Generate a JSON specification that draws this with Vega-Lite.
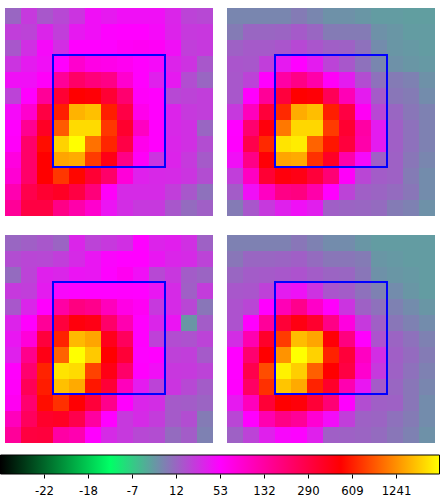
{"$schema":"https://vega.github.io/schema/vega-lite/v6.json","padding":{"left":0,"top":8,"right":0,"bottom":0},"background":"white","config":{"view":{"stroke":null}},
"datasets":{
"box":[{"x0":3,"x1":10,"y0":2.94,"y1":9.94}],
"bar":[{"lo":-25,"hi":2500}],
"p1":[
{"c":0,"r":0,"v":12},{"c":1,"r":0,"v":30},{"c":2,"r":0,"v":18},{"c":3,"r":0,"v":24},{"c":4,"r":0,"v":32},{"c":5,"r":0,"v":47},{"c":6,"r":0,"v":43},{"c":7,"r":0,"v":47},{"c":8,"r":0,"v":47},{"c":9,"r":0,"v":47},{"c":10,"r":0,"v":38},{"c":11,"r":0,"v":26},{"c":12,"r":0,"v":24},
{"c":0,"r":1,"v":28},{"c":1,"r":1,"v":26},{"c":2,"r":1,"v":38},{"c":3,"r":1,"v":28},{"c":4,"r":1,"v":43},{"c":5,"r":1,"v":47},{"c":6,"r":1,"v":52},{"c":7,"r":1,"v":53},{"c":8,"r":1,"v":53},{"c":9,"r":1,"v":49},{"c":10,"r":1,"v":39},{"c":11,"r":1,"v":30},{"c":12,"r":1,"v":31},
{"c":0,"r":2,"v":18},{"c":1,"r":2,"v":34},{"c":2,"r":2,"v":49},{"c":3,"r":2,"v":35},{"c":4,"r":2,"v":53},{"c":5,"r":2,"v":53},{"c":6,"r":2,"v":52},{"c":7,"r":2,"v":60},{"c":8,"r":2,"v":62},{"c":9,"r":2,"v":60},{"c":10,"r":2,"v":47},{"c":11,"r":2,"v":28},{"c":12,"r":2,"v":30},
{"c":0,"r":3,"v":32},{"c":1,"r":3,"v":42},{"c":2,"r":3,"v":47},{"c":3,"r":3,"v":55},{"c":4,"r":3,"v":95},{"c":5,"r":3,"v":75},{"c":6,"r":3,"v":72},{"c":7,"r":3,"v":65},{"c":8,"r":3,"v":55},{"c":9,"r":3,"v":49},{"c":10,"r":3,"v":39},{"c":11,"r":3,"v":33},{"c":12,"r":3,"v":18},
{"c":0,"r":4,"v":47},{"c":1,"r":4,"v":47},{"c":2,"r":4,"v":58},{"c":3,"r":4,"v":150},{"c":4,"r":4,"v":235},{"c":5,"r":4,"v":200},{"c":6,"r":4,"v":180},{"c":7,"r":4,"v":95},{"c":8,"r":4,"v":55},{"c":9,"r":4,"v":40},{"c":10,"r":4,"v":43},{"c":11,"r":4,"v":22},{"c":12,"r":4,"v":12},
{"c":0,"r":5,"v":26},{"c":1,"r":5,"v":55},{"c":2,"r":5,"v":150},{"c":3,"r":5,"v":350},{"c":4,"r":5,"v":520},{"c":5,"r":5,"v":500},{"c":6,"r":5,"v":350},{"c":7,"r":5,"v":220},{"c":8,"r":5,"v":58},{"c":9,"r":5,"v":55},{"c":10,"r":5,"v":24},{"c":11,"r":5,"v":26},{"c":12,"r":5,"v":28},
{"c":0,"r":6,"v":49},{"c":1,"r":6,"v":95},{"c":2,"r":6,"v":300},{"c":3,"r":6,"v":620},{"c":4,"r":6,"v":1650},{"c":5,"r":6,"v":1800},{"c":6,"r":6,"v":620},{"c":7,"r":6,"v":290},{"c":8,"r":6,"v":70},{"c":9,"r":6,"v":55},{"c":10,"r":6,"v":39},{"c":11,"r":6,"v":30},{"c":12,"r":6,"v":28},
{"c":0,"r":7,"v":55},{"c":1,"r":7,"v":160},{"c":2,"r":7,"v":400},{"c":3,"r":7,"v":950},{"c":4,"r":7,"v":2100},{"c":5,"r":7,"v":2100},{"c":6,"r":7,"v":760},{"c":7,"r":7,"v":370},{"c":8,"r":7,"v":105},{"c":9,"r":7,"v":55},{"c":10,"r":7,"v":37},{"c":11,"r":7,"v":34},{"c":12,"r":7,"v":12},
{"c":0,"r":8,"v":58},{"c":1,"r":8,"v":230},{"c":2,"r":8,"v":560},{"c":3,"r":8,"v":2000},{"c":4,"r":8,"v":2500},{"c":5,"r":8,"v":1080},{"c":6,"r":8,"v":660},{"c":7,"r":8,"v":290},{"c":8,"r":8,"v":70},{"c":9,"r":8,"v":55},{"c":10,"r":8,"v":38},{"c":11,"r":8,"v":34},{"c":12,"r":8,"v":22},
{"c":0,"r":9,"v":80},{"c":1,"r":9,"v":230},{"c":2,"r":9,"v":520},{"c":3,"r":9,"v":1500},{"c":4,"r":9,"v":1580},{"c":5,"r":9,"v":780},{"c":6,"r":9,"v":450},{"c":7,"r":9,"v":180},{"c":8,"r":9,"v":60},{"c":9,"r":9,"v":32},{"c":10,"r":9,"v":39},{"c":11,"r":9,"v":30},{"c":12,"r":9,"v":17},
{"c":0,"r":10,"v":90},{"c":1,"r":10,"v":230},{"c":2,"r":10,"v":520},{"c":3,"r":10,"v":760},{"c":4,"r":10,"v":540},{"c":5,"r":10,"v":350},{"c":6,"r":10,"v":230},{"c":7,"r":10,"v":85},{"c":8,"r":10,"v":40},{"c":9,"r":10,"v":37},{"c":10,"r":10,"v":36},{"c":11,"r":10,"v":32},{"c":12,"r":10,"v":22},
{"c":0,"r":11,"v":120},{"c":1,"r":11,"v":280},{"c":2,"r":11,"v":360},{"c":3,"r":11,"v":400},{"c":4,"r":11,"v":300},{"c":5,"r":11,"v":200},{"c":6,"r":11,"v":58},{"c":7,"r":11,"v":36},{"c":8,"r":11,"v":36},{"c":9,"r":11,"v":36},{"c":10,"r":11,"v":28},{"c":11,"r":11,"v":18},{"c":12,"r":11,"v":10},
{"c":0,"r":12,"v":150},{"c":1,"r":12,"v":300},{"c":2,"r":12,"v":300},{"c":3,"r":12,"v":180},{"c":4,"r":12,"v":125},{"c":5,"r":12,"v":95},{"c":6,"r":12,"v":45},{"c":7,"r":12,"v":35},{"c":8,"r":12,"v":30},{"c":9,"r":12,"v":30},{"c":10,"r":12,"v":18},{"c":11,"r":12,"v":11},{"c":12,"r":12,"v":15}
],
"p2":[
{"c":0,"r":0,"v":6},{"c":1,"r":0,"v":6},{"c":2,"r":0,"v":6},{"c":3,"r":0,"v":6},{"c":4,"r":0,"v":8},{"c":5,"r":0,"v":6},{"c":6,"r":0,"v":4},{"c":7,"r":0,"v":4},{"c":8,"r":0,"v":3},{"c":9,"r":0,"v":2},{"c":10,"r":0,"v":2},{"c":11,"r":0,"v":1.5},{"c":12,"r":0,"v":1.5},
{"c":0,"r":1,"v":8},{"c":1,"r":1,"v":12},{"c":2,"r":1,"v":12},{"c":3,"r":1,"v":13},{"c":4,"r":1,"v":17},{"c":5,"r":1,"v":12},{"c":6,"r":1,"v":8},{"c":7,"r":1,"v":8},{"c":8,"r":1,"v":8},{"c":9,"r":1,"v":4},{"c":10,"r":1,"v":3},{"c":11,"r":1,"v":2},{"c":12,"r":1,"v":2},
{"c":0,"r":2,"v":14},{"c":1,"r":2,"v":17},{"c":2,"r":2,"v":17},{"c":3,"r":2,"v":19},{"c":4,"r":2,"v":24},{"c":5,"r":2,"v":19},{"c":6,"r":2,"v":15},{"c":7,"r":2,"v":14},{"c":8,"r":2,"v":10},{"c":9,"r":2,"v":5},{"c":10,"r":2,"v":3},{"c":11,"r":2,"v":2.5},{"c":12,"r":2,"v":2},
{"c":0,"r":3,"v":19},{"c":1,"r":3,"v":18},{"c":2,"r":3,"v":28},{"c":3,"r":3,"v":43},{"c":4,"r":3,"v":53},{"c":5,"r":3,"v":42},{"c":6,"r":3,"v":26},{"c":7,"r":3,"v":18},{"c":8,"r":3,"v":10},{"c":9,"r":3,"v":6},{"c":10,"r":3,"v":4},{"c":11,"r":3,"v":3},{"c":12,"r":3,"v":2.5},
{"c":0,"r":4,"v":18},{"c":1,"r":4,"v":26},{"c":2,"r":4,"v":55},{"c":3,"r":4,"v":130},{"c":4,"r":4,"v":180},{"c":5,"r":4,"v":125},{"c":6,"r":4,"v":60},{"c":7,"r":4,"v":42},{"c":8,"r":4,"v":22},{"c":9,"r":4,"v":10},{"c":10,"r":4,"v":8},{"c":11,"r":4,"v":7},{"c":12,"r":4,"v":4},
{"c":0,"r":5,"v":18},{"c":1,"r":5,"v":55},{"c":2,"r":5,"v":150},{"c":3,"r":5,"v":320},{"c":4,"r":5,"v":520},{"c":5,"r":5,"v":500},{"c":6,"r":5,"v":260},{"c":7,"r":5,"v":115},{"c":8,"r":5,"v":42},{"c":9,"r":5,"v":17},{"c":10,"r":5,"v":9},{"c":11,"r":5,"v":8},{"c":12,"r":5,"v":5},
{"c":0,"r":6,"v":30},{"c":1,"r":6,"v":110},{"c":2,"r":6,"v":330},{"c":3,"r":6,"v":680},{"c":4,"r":6,"v":1580},{"c":5,"r":6,"v":1780},{"c":6,"r":6,"v":620},{"c":7,"r":6,"v":300},{"c":8,"r":6,"v":62},{"c":9,"r":6,"v":25},{"c":10,"r":6,"v":12},{"c":11,"r":6,"v":9},{"c":12,"r":6,"v":7},
{"c":0,"r":7,"v":53},{"c":1,"r":7,"v":220},{"c":2,"r":7,"v":480},{"c":3,"r":7,"v":1120},{"c":4,"r":7,"v":2050},{"c":5,"r":7,"v":2050},{"c":6,"r":7,"v":780},{"c":7,"r":7,"v":360},{"c":8,"r":7,"v":130},{"c":9,"r":7,"v":42},{"c":10,"r":7,"v":15},{"c":11,"r":7,"v":10},{"c":12,"r":7,"v":7},
{"c":0,"r":8,"v":55},{"c":1,"r":8,"v":280},{"c":2,"r":8,"v":680},{"c":3,"r":8,"v":2200},{"c":4,"r":8,"v":2300},{"c":5,"r":8,"v":1000},{"c":6,"r":8,"v":590},{"c":7,"r":8,"v":320},{"c":8,"r":8,"v":125},{"c":9,"r":8,"v":42},{"c":10,"r":8,"v":15},{"c":11,"r":8,"v":10},{"c":12,"r":8,"v":7},
{"c":0,"r":9,"v":47},{"c":1,"r":9,"v":180},{"c":2,"r":9,"v":500},{"c":3,"r":9,"v":1500},{"c":4,"r":9,"v":1550},{"c":5,"r":9,"v":720},{"c":6,"r":9,"v":400},{"c":7,"r":9,"v":125},{"c":8,"r":9,"v":49},{"c":9,"r":9,"v":15},{"c":10,"r":9,"v":14},{"c":11,"r":9,"v":9},{"c":12,"r":9,"v":6},
{"c":0,"r":10,"v":28},{"c":1,"r":10,"v":105},{"c":2,"r":10,"v":350},{"c":3,"r":10,"v":480},{"c":4,"r":10,"v":450},{"c":5,"r":10,"v":330},{"c":6,"r":10,"v":210},{"c":7,"r":10,"v":58},{"c":8,"r":10,"v":25},{"c":9,"r":10,"v":16},{"c":10,"r":10,"v":14},{"c":11,"r":10,"v":8},{"c":12,"r":10,"v":5},
{"c":0,"r":11,"v":16},{"c":1,"r":11,"v":47},{"c":2,"r":11,"v":105},{"c":3,"r":11,"v":180},{"c":4,"r":11,"v":190},{"c":5,"r":11,"v":125},{"c":6,"r":11,"v":55},{"c":7,"r":11,"v":26},{"c":8,"r":11,"v":15},{"c":9,"r":11,"v":13},{"c":10,"r":11,"v":11},{"c":11,"r":11,"v":9},{"c":12,"r":11,"v":5},
{"c":0,"r":12,"v":8},{"c":1,"r":12,"v":18},{"c":2,"r":12,"v":30},{"c":3,"r":12,"v":40},{"c":4,"r":12,"v":47},{"c":5,"r":12,"v":41},{"c":6,"r":12,"v":15},{"c":7,"r":12,"v":13},{"c":8,"r":12,"v":12},{"c":9,"r":12,"v":11},{"c":10,"r":12,"v":8},{"c":11,"r":12,"v":7},{"c":12,"r":12,"v":4}
],
"p3":[
{"c":0,"r":0,"v":12},{"c":1,"r":0,"v":15},{"c":2,"r":0,"v":18},{"c":3,"r":0,"v":13},{"c":4,"r":0,"v":38},{"c":5,"r":0,"v":26},{"c":6,"r":0,"v":30},{"c":7,"r":0,"v":34},{"c":8,"r":0,"v":52},{"c":9,"r":0,"v":39},{"c":10,"r":0,"v":41},{"c":11,"r":0,"v":34},{"c":12,"r":0,"v":14},
{"c":0,"r":1,"v":22},{"c":1,"r":1,"v":25},{"c":2,"r":1,"v":24},{"c":3,"r":1,"v":28},{"c":4,"r":1,"v":36},{"c":5,"r":1,"v":44},{"c":6,"r":1,"v":51},{"c":7,"r":1,"v":53},{"c":8,"r":1,"v":53},{"c":9,"r":1,"v":44},{"c":10,"r":1,"v":38},{"c":11,"r":1,"v":36},{"c":12,"r":1,"v":26},
{"c":0,"r":2,"v":11},{"c":1,"r":2,"v":26},{"c":2,"r":2,"v":40},{"c":3,"r":2,"v":38},{"c":4,"r":2,"v":45},{"c":5,"r":2,"v":44},{"c":6,"r":2,"v":52},{"c":7,"r":2,"v":65},{"c":8,"r":2,"v":47},{"c":9,"r":2,"v":24},{"c":10,"r":2,"v":31},{"c":11,"r":2,"v":16},{"c":12,"r":2,"v":13},
{"c":0,"r":3,"v":30},{"c":1,"r":3,"v":28},{"c":2,"r":3,"v":42},{"c":3,"r":3,"v":50},{"c":4,"r":3,"v":52},{"c":5,"r":3,"v":53},{"c":6,"r":3,"v":53},{"c":7,"r":3,"v":54},{"c":8,"r":3,"v":53},{"c":9,"r":3,"v":44},{"c":10,"r":3,"v":36},{"c":11,"r":3,"v":15},{"c":12,"r":3,"v":29},
{"c":0,"r":4,"v":18},{"c":1,"r":4,"v":38},{"c":2,"r":4,"v":55},{"c":3,"r":4,"v":130},{"c":4,"r":4,"v":190},{"c":5,"r":4,"v":170},{"c":6,"r":4,"v":110},{"c":7,"r":4,"v":75},{"c":8,"r":4,"v":62},{"c":9,"r":4,"v":30},{"c":10,"r":4,"v":36},{"c":11,"r":4,"v":25},{"c":12,"r":4,"v":9},
{"c":0,"r":5,"v":39},{"c":1,"r":5,"v":55},{"c":2,"r":5,"v":150},{"c":3,"r":5,"v":320},{"c":4,"r":5,"v":480},{"c":5,"r":5,"v":450},{"c":6,"r":5,"v":230},{"c":7,"r":5,"v":120},{"c":8,"r":5,"v":55},{"c":9,"r":5,"v":38},{"c":10,"r":5,"v":45},{"c":11,"r":5,"v":3},{"c":12,"r":5,"v":16},
{"c":0,"r":6,"v":44},{"c":1,"r":6,"v":85},{"c":2,"r":6,"v":320},{"c":3,"r":6,"v":640},{"c":4,"r":6,"v":1720},{"c":5,"r":6,"v":1500},{"c":6,"r":6,"v":430},{"c":7,"r":6,"v":250},{"c":8,"r":6,"v":55},{"c":9,"r":6,"v":27},{"c":10,"r":6,"v":22},{"c":11,"r":6,"v":20},{"c":12,"r":6,"v":26},
{"c":0,"r":7,"v":40},{"c":1,"r":7,"v":170},{"c":2,"r":7,"v":450},{"c":3,"r":7,"v":1000},{"c":4,"r":7,"v":2500},{"c":5,"r":7,"v":1900},{"c":6,"r":7,"v":520},{"c":7,"r":7,"v":340},{"c":8,"r":7,"v":52},{"c":9,"r":7,"v":53},{"c":10,"r":7,"v":27},{"c":11,"r":7,"v":28},{"c":12,"r":7,"v":17},
{"c":0,"r":8,"v":56},{"c":1,"r":8,"v":220},{"c":2,"r":8,"v":650},{"c":3,"r":8,"v":2200},{"c":4,"r":8,"v":2100},{"c":5,"r":8,"v":820},{"c":6,"r":8,"v":450},{"c":7,"r":8,"v":230},{"c":8,"r":8,"v":55},{"c":9,"r":8,"v":47},{"c":10,"r":8,"v":31},{"c":11,"r":8,"v":30},{"c":12,"r":8,"v":26},
{"c":0,"r":9,"v":58},{"c":1,"r":9,"v":260},{"c":2,"r":9,"v":610},{"c":3,"r":9,"v":1800},{"c":4,"r":9,"v":1550},{"c":5,"r":9,"v":590},{"c":6,"r":9,"v":340},{"c":7,"r":9,"v":110},{"c":8,"r":9,"v":42},{"c":9,"r":9,"v":26},{"c":10,"r":9,"v":32},{"c":11,"r":9,"v":24},{"c":12,"r":9,"v":16},
{"c":0,"r":10,"v":65},{"c":1,"r":10,"v":220},{"c":2,"r":10,"v":560},{"c":3,"r":10,"v":720},{"c":4,"r":10,"v":510},{"c":5,"r":10,"v":330},{"c":6,"r":10,"v":170},{"c":7,"r":10,"v":55},{"c":8,"r":10,"v":38},{"c":9,"r":10,"v":35},{"c":10,"r":10,"v":17},{"c":11,"r":10,"v":16},{"c":12,"r":10,"v":13},
{"c":0,"r":11,"v":110},{"c":1,"r":11,"v":250},{"c":2,"r":11,"v":380},{"c":3,"r":11,"v":400},{"c":4,"r":11,"v":280},{"c":5,"r":11,"v":135},{"c":6,"r":11,"v":53},{"c":7,"r":11,"v":30},{"c":8,"r":11,"v":36},{"c":9,"r":11,"v":29},{"c":10,"r":11,"v":17},{"c":11,"r":11,"v":22},{"c":12,"r":11,"v":8},
{"c":0,"r":12,"v":145},{"c":1,"r":12,"v":310},{"c":2,"r":12,"v":320},{"c":3,"r":12,"v":130},{"c":4,"r":12,"v":120},{"c":5,"r":12,"v":54},{"c":6,"r":12,"v":36},{"c":7,"r":12,"v":30},{"c":8,"r":12,"v":24},{"c":9,"r":12,"v":22},{"c":10,"r":12,"v":11},{"c":11,"r":12,"v":16},{"c":12,"r":12,"v":7}
],
"p4":[
{"c":0,"r":0,"v":7},{"c":1,"r":0,"v":7},{"c":2,"r":0,"v":7},{"c":3,"r":0,"v":7},{"c":4,"r":0,"v":9},{"c":5,"r":0,"v":7},{"c":6,"r":0,"v":5},{"c":7,"r":0,"v":5},{"c":8,"r":0,"v":3},{"c":9,"r":0,"v":2},{"c":10,"r":0,"v":2},{"c":11,"r":0,"v":2},{"c":12,"r":0,"v":2},
{"c":0,"r":1,"v":9},{"c":1,"r":1,"v":12},{"c":2,"r":1,"v":12},{"c":3,"r":1,"v":13},{"c":4,"r":1,"v":15},{"c":5,"r":1,"v":11},{"c":6,"r":1,"v":9},{"c":7,"r":1,"v":9},{"c":8,"r":1,"v":8},{"c":9,"r":1,"v":3},{"c":10,"r":1,"v":2.5},{"c":11,"r":1,"v":2},{"c":12,"r":1,"v":2},
{"c":0,"r":2,"v":12},{"c":1,"r":2,"v":16},{"c":2,"r":2,"v":17},{"c":3,"r":2,"v":18},{"c":4,"r":2,"v":20},{"c":5,"r":2,"v":16},{"c":6,"r":2,"v":13},{"c":7,"r":2,"v":12},{"c":8,"r":2,"v":9},{"c":9,"r":2,"v":4},{"c":10,"r":2,"v":3},{"c":11,"r":2,"v":2.5},{"c":12,"r":2,"v":2},
{"c":0,"r":3,"v":18},{"c":1,"r":3,"v":19},{"c":2,"r":3,"v":27},{"c":3,"r":3,"v":42},{"c":4,"r":3,"v":46},{"c":5,"r":3,"v":33},{"c":6,"r":3,"v":19},{"c":7,"r":3,"v":16},{"c":8,"r":3,"v":10},{"c":9,"r":3,"v":7},{"c":10,"r":3,"v":5},{"c":11,"r":3,"v":3},{"c":12,"r":3,"v":2},
{"c":0,"r":4,"v":20},{"c":1,"r":4,"v":25},{"c":2,"r":4,"v":54},{"c":3,"r":4,"v":115},{"c":4,"r":4,"v":170},{"c":5,"r":4,"v":100},{"c":6,"r":4,"v":56},{"c":7,"r":4,"v":32},{"c":8,"r":4,"v":14},{"c":9,"r":4,"v":10},{"c":10,"r":4,"v":7},{"c":11,"r":4,"v":5},{"c":12,"r":4,"v":3},
{"c":0,"r":5,"v":20},{"c":1,"r":5,"v":55},{"c":2,"r":5,"v":145},{"c":3,"r":5,"v":340},{"c":4,"r":5,"v":460},{"c":5,"r":5,"v":370},{"c":6,"r":5,"v":180},{"c":7,"r":5,"v":80},{"c":8,"r":5,"v":30},{"c":9,"r":5,"v":15},{"c":10,"r":5,"v":9},{"c":11,"r":5,"v":7},{"c":12,"r":5,"v":5},
{"c":0,"r":6,"v":35},{"c":1,"r":6,"v":120},{"c":2,"r":6,"v":380},{"c":3,"r":6,"v":780},{"c":4,"r":6,"v":1750},{"c":5,"r":6,"v":1500},{"c":6,"r":6,"v":500},{"c":7,"r":6,"v":190},{"c":8,"r":6,"v":55},{"c":9,"r":6,"v":20},{"c":10,"r":6,"v":13},{"c":11,"r":6,"v":10},{"c":12,"r":6,"v":7},
{"c":0,"r":7,"v":53},{"c":1,"r":7,"v":220},{"c":2,"r":7,"v":520},{"c":3,"r":7,"v":1300},{"c":4,"r":7,"v":2500},{"c":5,"r":7,"v":2000},{"c":6,"r":7,"v":640},{"c":7,"r":7,"v":330},{"c":8,"r":7,"v":105},{"c":9,"r":7,"v":35},{"c":10,"r":7,"v":15},{"c":11,"r":7,"v":11},{"c":12,"r":7,"v":8},
{"c":0,"r":8,"v":53},{"c":1,"r":8,"v":280},{"c":2,"r":8,"v":880},{"c":3,"r":8,"v":2350},{"c":4,"r":8,"v":1950},{"c":5,"r":8,"v":980},{"c":6,"r":8,"v":520},{"c":7,"r":8,"v":300},{"c":8,"r":8,"v":95},{"c":9,"r":8,"v":30},{"c":10,"r":8,"v":14},{"c":11,"r":8,"v":10},{"c":12,"r":8,"v":7},
{"c":0,"r":9,"v":55},{"c":1,"r":9,"v":240},{"c":2,"r":9,"v":720},{"c":3,"r":9,"v":1850},{"c":4,"r":9,"v":1550},{"c":5,"r":9,"v":640},{"c":6,"r":9,"v":380},{"c":7,"r":9,"v":120},{"c":8,"r":9,"v":44},{"c":9,"r":9,"v":17},{"c":10,"r":9,"v":12},{"c":11,"r":9,"v":9},{"c":12,"r":9,"v":6},
{"c":0,"r":10,"v":43},{"c":1,"r":10,"v":110},{"c":2,"r":10,"v":340},{"c":3,"r":10,"v":520},{"c":4,"r":10,"v":490},{"c":5,"r":10,"v":340},{"c":6,"r":10,"v":210},{"c":7,"r":10,"v":55},{"c":8,"r":10,"v":22},{"c":9,"r":10,"v":15},{"c":10,"r":10,"v":14},{"c":11,"r":10,"v":9},{"c":12,"r":10,"v":5},
{"c":0,"r":11,"v":25},{"c":1,"r":11,"v":54},{"c":2,"r":11,"v":120},{"c":3,"r":11,"v":180},{"c":4,"r":11,"v":150},{"c":5,"r":11,"v":90},{"c":6,"r":11,"v":48},{"c":7,"r":11,"v":28},{"c":8,"r":11,"v":14},{"c":9,"r":11,"v":13},{"c":10,"r":11,"v":10},{"c":11,"r":11,"v":8},{"c":12,"r":11,"v":5},
{"c":0,"r":12,"v":14},{"c":1,"r":12,"v":26},{"c":2,"r":12,"v":40},{"c":3,"r":12,"v":50},{"c":4,"r":12,"v":52},{"c":5,"r":12,"v":40},{"c":6,"r":12,"v":15},{"c":7,"r":12,"v":14},{"c":8,"r":12,"v":13},{"c":9,"r":12,"v":11},{"c":10,"r":12,"v":9},{"c":11,"r":12,"v":7},{"c":12,"r":12,"v":4}
]},
"spacing":11,
"vconcat":[
{"spacing":19,"vconcat":[
{"spacing":14,"hconcat":[
{"width":208,"height":208,"resolve":{"scale":{"x":"independent","y":"independent"},"axis":{"x":"independent","y":"independent"}},"layer":[
{"data":{"name":"p1"},"mark":{"type":"rect","strokeWidth":0},"encoding":{"x":{"field":"c","type":"ordinal","scale":{"paddingInner":0,"paddingOuter":0},"axis":null},"y":{"field":"r","type":"ordinal","scale":{"paddingInner":0,"paddingOuter":0},"axis":null},"color":{"field":"v","type":"quantitative","legend":null,"scale":{"interpolate":"rgb","domain":[-25,-22,-18,-12.5,-7,12,53,132,290,520,609,1241,2500],"range":["#000000","#006629","#00cc52","#00ff66","#33cc85","#9966c2","#ff00ff","#ff00a2","#ff0046","#ff0000","#ff1c00","#ff8e00","#ffff00"]}}}},
{"data":{"name":"box"},"mark":{"type":"rect","fillOpacity":0,"stroke":"#0000ff","strokeWidth":2},"encoding":{"x":{"field":"x0","type":"quantitative","scale":{"domain":[0,13],"nice":false,"zero":false},"axis":null},"x2":{"field":"x1"},"y":{"field":"y0","type":"quantitative","scale":{"domain":[13,0],"nice":false,"zero":false},"axis":null},"y2":{"field":"y1"}}}
]},
{"width":208,"height":208,"resolve":{"scale":{"x":"independent","y":"independent"},"axis":{"x":"independent","y":"independent"}},"layer":[
{"data":{"name":"p2"},"mark":{"type":"rect","strokeWidth":0},"encoding":{"x":{"field":"c","type":"ordinal","scale":{"paddingInner":0,"paddingOuter":0},"axis":null},"y":{"field":"r","type":"ordinal","scale":{"paddingInner":0,"paddingOuter":0},"axis":null},"color":{"field":"v","type":"quantitative","legend":null,"scale":{"interpolate":"rgb","domain":[-25,-22,-18,-12.5,-7,12,53,132,290,520,609,1241,2500],"range":["#000000","#006629","#00cc52","#00ff66","#33cc85","#9966c2","#ff00ff","#ff00a2","#ff0046","#ff0000","#ff1c00","#ff8e00","#ffff00"]}}}},
{"data":{"name":"box"},"mark":{"type":"rect","fillOpacity":0,"stroke":"#0000ff","strokeWidth":2},"encoding":{"x":{"field":"x0","type":"quantitative","scale":{"domain":[0,13],"nice":false,"zero":false},"axis":null},"x2":{"field":"x1"},"y":{"field":"y0","type":"quantitative","scale":{"domain":[13,0],"nice":false,"zero":false},"axis":null},"y2":{"field":"y1"}}}
]}
]},
{"spacing":14,"hconcat":[
{"width":208,"height":208,"resolve":{"scale":{"x":"independent","y":"independent"},"axis":{"x":"independent","y":"independent"}},"layer":[
{"data":{"name":"p3"},"mark":{"type":"rect","strokeWidth":0},"encoding":{"x":{"field":"c","type":"ordinal","scale":{"paddingInner":0,"paddingOuter":0},"axis":null},"y":{"field":"r","type":"ordinal","scale":{"paddingInner":0,"paddingOuter":0},"axis":null},"color":{"field":"v","type":"quantitative","legend":null,"scale":{"interpolate":"rgb","domain":[-25,-22,-18,-12.5,-7,12,53,132,290,520,609,1241,2500],"range":["#000000","#006629","#00cc52","#00ff66","#33cc85","#9966c2","#ff00ff","#ff00a2","#ff0046","#ff0000","#ff1c00","#ff8e00","#ffff00"]}}}},
{"data":{"name":"box"},"mark":{"type":"rect","fillOpacity":0,"stroke":"#0000ff","strokeWidth":2},"encoding":{"x":{"field":"x0","type":"quantitative","scale":{"domain":[0,13],"nice":false,"zero":false},"axis":null},"x2":{"field":"x1"},"y":{"field":"y0","type":"quantitative","scale":{"domain":[13,0],"nice":false,"zero":false},"axis":null},"y2":{"field":"y1"}}}
]},
{"width":208,"height":208,"resolve":{"scale":{"x":"independent","y":"independent"},"axis":{"x":"independent","y":"independent"}},"layer":[
{"data":{"name":"p4"},"mark":{"type":"rect","strokeWidth":0},"encoding":{"x":{"field":"c","type":"ordinal","scale":{"paddingInner":0,"paddingOuter":0},"axis":null},"y":{"field":"r","type":"ordinal","scale":{"paddingInner":0,"paddingOuter":0},"axis":null},"color":{"field":"v","type":"quantitative","legend":null,"scale":{"interpolate":"rgb","domain":[-25,-22,-18,-12.5,-7,12,53,132,290,520,609,1241,2500],"range":["#000000","#006629","#00cc52","#00ff66","#33cc85","#9966c2","#ff00ff","#ff00a2","#ff0046","#ff0000","#ff1c00","#ff8e00","#ffff00"]}}}},
{"data":{"name":"box"},"mark":{"type":"rect","fillOpacity":0,"stroke":"#0000ff","strokeWidth":2},"encoding":{"x":{"field":"x0","type":"quantitative","scale":{"domain":[0,13],"nice":false,"zero":false},"axis":null},"x2":{"field":"x1"},"y":{"field":"y0","type":"quantitative","scale":{"domain":[13,0],"nice":false,"zero":false},"axis":null},"y2":{"field":"y1"}}}
]}
]}
]},
{"width":430,"height":19,"data":{"name":"bar"},"mark":{"type":"rect","stroke":"#000000","strokeWidth":1,"color":{"gradient":"linear","x1":0,"x2":1,"y1":0,"y2":0,"stops":[{"offset":0,"color":"#000000"},{"offset":0.25,"color":"#00ff66"},{"offset":0.5,"color":"#ff00ff"},{"offset":0.775,"color":"#ff0000"},{"offset":1,"color":"#ffff00"}]}},
"encoding":{"x":{"field":"lo","type":"quantitative","scale":{"domain":[-25,-22,-18,-7,12,53,132,290,609,1241,2500],"range":[-4.5,39,83,127,171,215,259,303,347,391,434.5],"nice":false,"zero":false},"axis":{"title":null,"values":[-22,-18,-7,12,53,132,290,609,1241],"labelExpr":"'' + datum.value","domain":false,"grid":false,"tickColor":"#000000","tickSize":4,"labelFont":"DejaVu Sans","labelFontSize":11.7,"labelColor":"#000000","labelPadding":7,"labelFlush":false,"labelOverlap":false}},"x2":{"field":"hi"}}}
]}
